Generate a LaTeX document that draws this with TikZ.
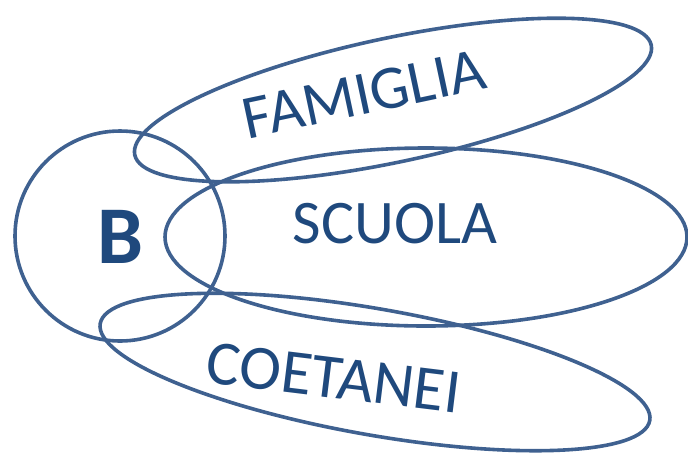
\documentclass[tikz,border=0pt]{standalone}
\usepackage{fontspec}
\setmainfont{Carlito}
\definecolor{ring}{HTML}{3F6190}
\definecolor{txt}{HTML}{1F497D}
\begin{document}
\begin{tikzpicture}[x=1pt,y=-1pt,
  ringline/.style={draw=ring,line width=3.6pt},
  lbl/.style={text=txt,inner sep=0pt,font=\fontsize{62}{62}\selectfont}]
\useasboundingbox (0,0) rectangle (688,459);
\draw[ringline] (120,236) circle [radius=105];
\draw[ringline,rotate around={12:(393,100)}] (393,100) ellipse [x radius=264, y radius=62];
\draw[ringline] (426,237) ellipse [x radius=261, y radius=89];
\draw[ringline,rotate around={-10:(375,372)}] (375,372) ellipse [x radius=279, y radius=63];
\node[lbl,font=\fontsize{82}{82}\selectfont\bfseries] (b) at (120,237) {B};
\node[lbl,rotate=12] (fam) at (364,94) {FAMIGLIA};
\node[lbl] (scu) at (395,224) {SCUOLA};
\node[lbl,rotate=-7,font=\fontsize{63}{63}\selectfont] (coe) at (334,378) {COETANEI};
\end{tikzpicture}
\end{document}
